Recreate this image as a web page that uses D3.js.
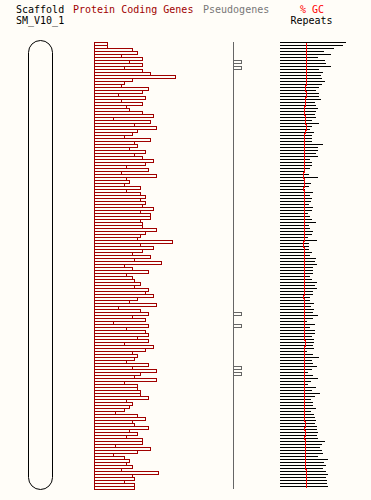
<!DOCTYPE html>
<html>
<head>
<meta charset="utf-8">
<script src="https://cdn.jsdelivr.net/npm/d3@7"></script>
<style>
  body { margin: 0; background: #fffdf8; }
  svg { display: block; }
</style>
</head>
<body>
<div id="chart"></div>
<script>
// binned features along scaffold SM_V10_1, top to bottom
const geneCounts = [5,5,14,16,10,18,13,18,11,18,21,30,14,11,10,20,18,9,19,10,18,12,13,18,22,7,21,15,23,16,14,11,21,15,16,13,19,15,
  18,22,19,12,20,10,23,12,13,11,17,12,17,19,17,19,18,22,17,21,21,17,18,18,23,19,17,16,29,17,22,18,14,21,15,25,11,14,20,12,14,15,17,15,20,19,22,16,
  13,23,9,17,20,14,19,7,20,12,19,20,16,20,11,22,19,14,16,15,12,20,14,23,17,15,23,11,16,16,17,17,20,
  12,14,13,11,8,16,19,14,15,20,13,16,12,18,18,8,21,16,7,11,13,12,14,10,24,14,15,11,15,15]

const repeatPct = [66,63,54,44,51,38,45,46,51,39,43,41,42,45,42,39,36,39,39,41,35,36,38,36,35,36,32,39,32,30,34,32,32,32,43,38,38,36,
  38,30,32,32,30,25,29,38,25,31,29,25,33,30,32,31,29,33,32,28,30,32,36,29,30,33,32,28,37,29,29,29,32,30,36,35,37,33,33,33,30,32,37,35,37,33,33,30,
  30,34,31,34,33,38,33,27,35,30,35,35,32,34,34,33,34,27,33,39,32,33,37,32,28,33,38,31,28,36,32,40,35,
  31,33,33,36,31,34,35,36,35,37,37,38,37,38,45,42,40,42,43,38,48,44,46,43,46,48,46,47,47,48]

const gcPct = [35.0,35.2,35.2,35.3,35.3,35.3,35.3,35.4,35.3,35.3,35.2,35.2,35.3,35.3,34.8,34.8,35.0,35.3,34.7,34.6,
  34.8,34.2,34.2,34.4,34.5,34.8,34.7,34.8,35.2,35.0,34.2,34.3,34.2,34.5,34.3,34.5,34.4,34.3,
  34.3,34.2,34.0,34.2,34.3,34.0,33.8,34.0,34.6,34.2,33.9,34.0,34.2,34.3,34.1,34.0,34.3,34.2,34.1,34.2,
  34.4,34.2,34.1,34.0,34.2,34.3,34.6,34.2,34.0,33.8,34.0,34.2,34.1,34.2,34.3,34.2,34.1,34.0,34.2,34.3,
  34.2,34.0,34.1,34.3,34.6,34.2,34.0,33.8,
  34.3,34.4,34.2,34.0,34.3,34.4,34.2,33.9,34.2,34.3,34.4,34.3,34.2,34.4,34.6,34.4,34.0,34.2,33.8,34.3,
  34.4,34.2,34.1,34.5,34.3,34.2,33.9,34.2,34.3,34.5,34.4,34.3,34.4,
  34.3,34.5,34.4,34.2,34.5,34.4,34.3,34.4,34.6,34.5,34.4,34.7,34.5,34.4,34.8,34.7,34.6,34.9,34.8,34.6,
  34.9,35.0,34.8,35.1,35.0,35.2,35.1,35.2,35.0,35.2]

const pseudoBins = [6, 8, 90, 94, 108, 110]
const pseudoCounts = [1, 1, 1, 1, 1, 1]

const scaffoldName = "SM_V10_1"

const width = 371, height = 500
const font = "DejaVu Sans Mono"

const svg = d3.select("#chart")
  .append("svg")
    .attr("width", width)
    .attr("height", height)
    .attr("shape-rendering", "crispEdges")

svg.append("rect")
  .attr("width", width).attr("height", height)
  .attr("fill", "#fffdf8")

const bins = d3.range(geneCounts.length)

// one band per bin, 3px each
const y = d3.scaleBand()
  .domain(bins)
  .range([42, 42 + bins.length * 3])

const xGene = d3.scaleLinear().domain([0, 30]).range([94, 174.5])
const xPseudo = d3.scaleLinear().domain([0, 1]).range([233, 241])
const xRep = d3.scaleLinear().domain([0, 100]).range([280, 380])
const xGc = d3.scaleLinear().domain([30, 40]).range([296, 316])

// header labels
const header = svg.append("g")
  .attr("font-family", font)
  .attr("font-size", "10px")

header.append("text").attr("x", 16).attr("y", 13).attr("fill", "#000").text("Scaffold")
header.append("text").attr("x", 16).attr("y", 24).attr("fill", "#000").text(scaffoldName)
header.append("text").attr("x", 73).attr("y", 13).attr("fill", "#a00000").text("Protein Coding Genes")
header.append("text").attr("x", 203).attr("y", 13).attr("fill", "#777").text("Pseudogenes")
header.append("text").attr("x", 312).attr("y", 13).attr("text-anchor", "middle").attr("fill", "#f00").text("% GC")
header.append("text").attr("x", 311.5).attr("y", 24).attr("text-anchor", "middle").attr("fill", "#000").text("Repeats")

// scaffold ideogram
svg.append("rect")
  .attr("x", 28.5).attr("y", 40.5)
  .attr("width", 24).attr("height", 449)
  .attr("rx", 12).attr("ry", 12)
  .attr("fill", "none")
  .attr("stroke", "#000")
  .attr("shape-rendering", "auto")

// protein coding genes
svg.append("g")
  .selectAll("rect")
  .data(bins)
  .join("rect")
    .attr("x", xGene(0) + 0.5)
    .attr("y", d => y(d) + 0.5)
    .attr("width", d => xGene(geneCounts[d]) - xGene(0))
    .attr("height", y.bandwidth())
    .attr("fill", "none")
    .attr("stroke", "#a00000")

// pseudogenes
svg.append("line")
  .attr("x1", xPseudo(0) + 0.5).attr("x2", xPseudo(0) + 0.5)
  .attr("y1", y.range()[0]).attr("y2", y.range()[1])
  .attr("stroke", "#666")

svg.append("g")
  .selectAll("rect")
  .data(pseudoBins)
  .join("rect")
    .attr("x", xPseudo(0) + 0.5)
    .attr("y", d => y(d) + 0.5)
    .attr("width", (d, i) => xPseudo(pseudoCounts[i]) - xPseudo(0))
    .attr("height", y.bandwidth())
    .attr("fill", "none")
    .attr("stroke", "#666")

// repeats
svg.append("g")
  .selectAll("rect")
  .data(bins)
  .join("rect")
    .attr("x", xRep(0))
    .attr("y", d => y(d))
    .attr("width", d => xRep(repeatPct[d]) - xRep(0))
    .attr("height", 1)
    .attr("fill", "#000")

// gc content
const gcLine = d3.line()
  .x(d => xGc(gcPct[d]))
  .y(d => y(d) + y.bandwidth() / 2)
  .curve(d3.curveStep)

svg.append("path")
  .datum(bins)
  .attr("d", gcLine)
  .attr("fill", "none")
  .attr("stroke", "#f00")
  .attr("stroke-width", 1)
</script>
</body>
</html>
